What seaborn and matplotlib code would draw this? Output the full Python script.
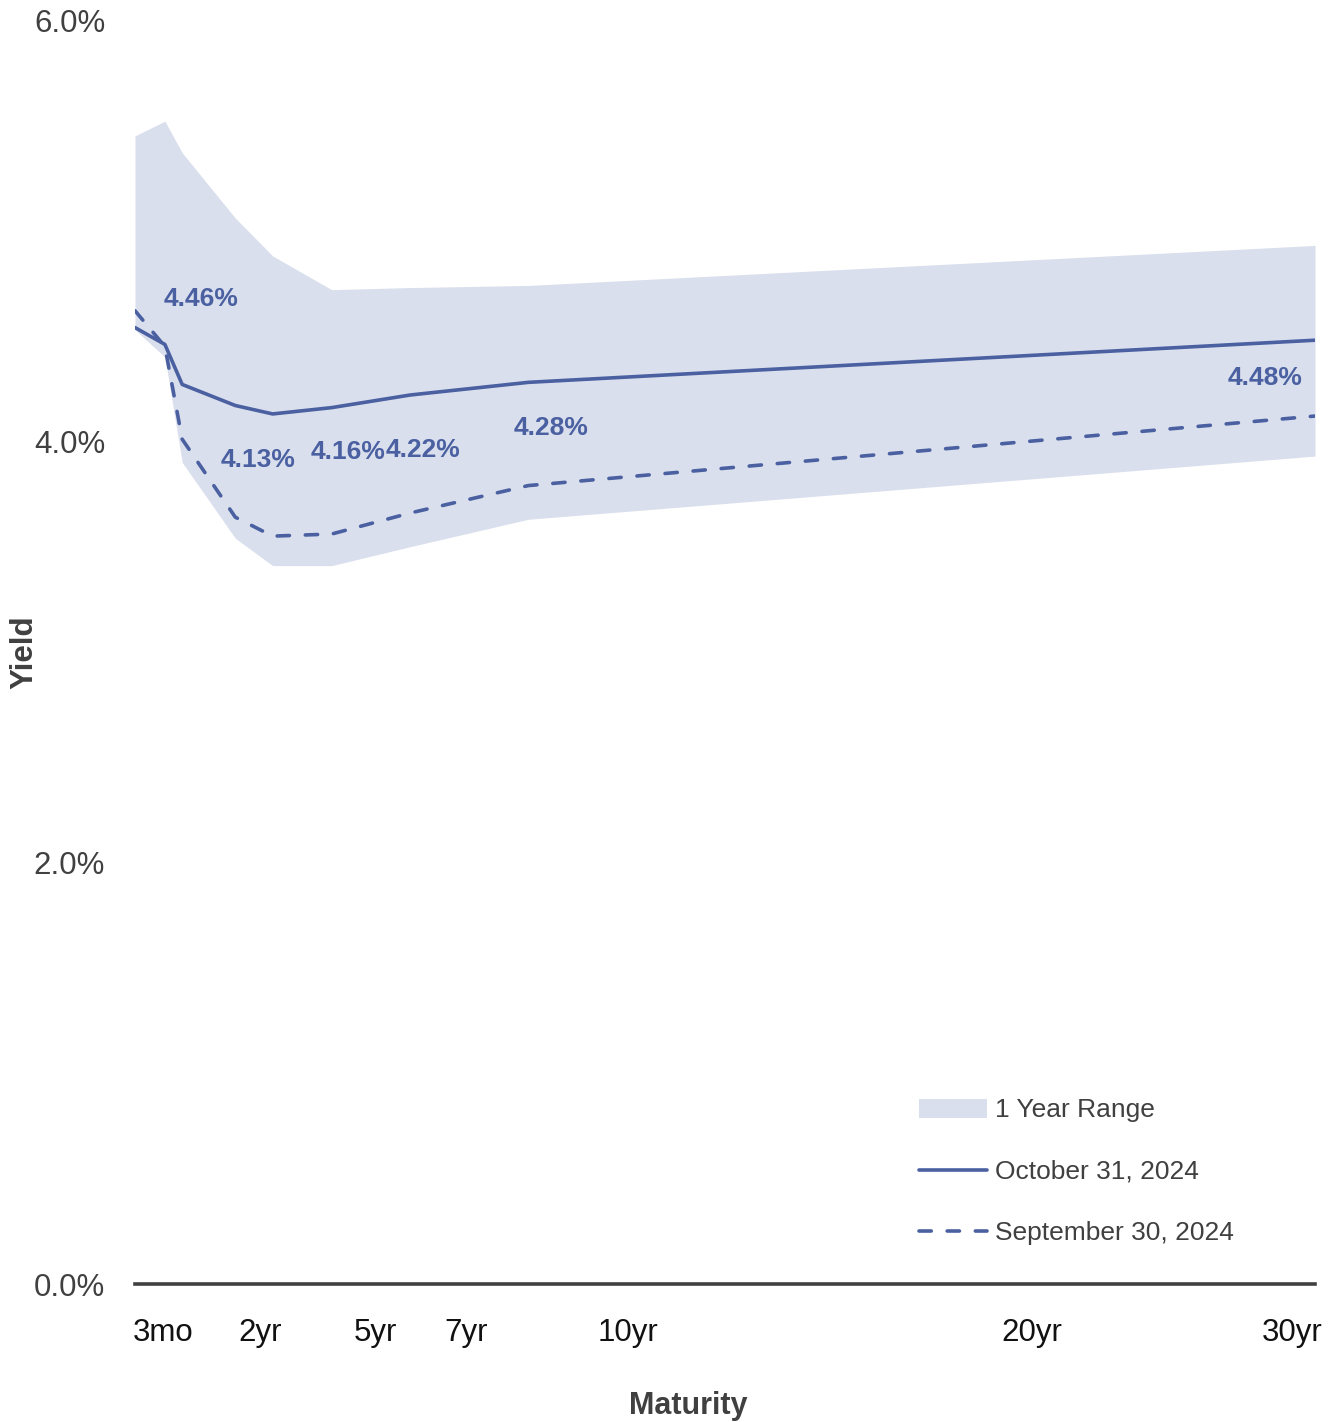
import matplotlib
matplotlib.use("Agg")
import matplotlib.pyplot as plt
import seaborn as sns

# Maturity positions on the horizontal axis (3mo ... 30yr)
maturity_x = [0.0, 0.76, 1.2, 2.55, 3.5, 5.0, 7.0, 10.0, 30.0]
oct_yield = [4.54, 4.46, 4.27, 4.17, 4.13, 4.16, 4.22, 4.28, 4.48]
sep_yield = [4.62, 4.45, 4.01, 3.64, 3.55, 3.56, 3.66, 3.79, 4.12]
range_high = [5.45, 5.52, 5.37, 5.06, 4.88, 4.72, 4.73, 4.74, 4.93]
range_low = [4.53, 4.40, 3.90, 3.54, 3.41, 3.41, 3.50, 3.63, 3.93]

# Points of the October curve that carry a value label
labeled_idx = [1, 4, 5, 6, 7, 8]

tick_pos = [0.71, 3.17, 6.1, 8.43, 12.53, 22.8, 29.42]
tick_labels = ["3mo", "2yr", "5yr", "7yr", "10yr", "20yr", "30yr"]
ytick_vals = [0, 2, 4, 6]
ytick_labels = ["0.0%", "2.0%", "4.0%", "6.0%"]

series_names = ["1 Year Range", "October 31, 2024", "September 30, 2024"]

# label offsets (points) relative to their data points
label_offsets = [(25.8, 27.6), (-10.8, -37.9), (11.7, -37.2),
                 (9.4, -44.4), (16.6, -38.2), (-36, -32.4)]

LINE = "#4A60A1"
FILL = "#DADFED"
TEXT = "#404040"

sns.set_theme(style="white")
plt.rcParams["font.family"] = ["Liberation Sans", "DejaVu Sans"]

fig = plt.figure(figsize=(13.39, 14.22), dpi=100)
ax = fig.add_axes([135 / 1339, 1 - 1284 / 1422, 1180 / 1339, 1264 / 1422])

fill = ax.fill_between(maturity_x, range_low, range_high, color=FILL,
                       linewidth=0, label=series_names[0], zorder=1)

sns.lineplot(x=maturity_x, y=oct_yield, ax=ax, color=LINE, linewidth=2.6,
             label=series_names[1], zorder=3)
sns.lineplot(x=maturity_x, y=sep_yield, ax=ax, color=LINE, linewidth=2.6,
             label=series_names[2], zorder=3)
oct_line, sep_line = ax.lines[-2], ax.lines[-1]
sep_line.set_dashes([3.4, 4.4])
sep_line.set_dash_capstyle("round")

for i, (dx, dy) in zip(labeled_idx, label_offsets):
    ax.annotate(f"{oct_yield[i]:.2f}%", (maturity_x[i], oct_yield[i]),
                xytext=(dx, dy), textcoords="offset points",
                ha="center", va="baseline", fontsize=19,
                fontweight="bold", color=LINE, zorder=4)

ax.set_xlim(0, 30)
ax.set_ylim(0, 6)
ax.set_xticks(tick_pos)
ax.set_xticklabels(tick_labels)
ax.set_yticks(ytick_vals)
ax.set_yticklabels(ytick_labels)
ax.tick_params(axis="x", length=0, pad=24.5, labelsize=22.5, labelcolor="#111111")
ax.tick_params(axis="y", length=0, pad=21.5, labelsize=22.5, labelcolor=TEXT)

for side in ["top", "right", "left"]:
    ax.spines[side].set_visible(False)
ax.spines["bottom"].set_color(TEXT)
ax.spines["bottom"].set_linewidth(2.6)
ax.grid(False)

ax.set_xlabel("Maturity", fontsize=22, fontweight="bold", color=TEXT)
ax.xaxis.set_label_coords((688.5 - 135) / 1180, (1284 - 1391) / 1264)
ax.set_ylabel("Yield", fontsize=22.5, fontweight="bold", color=TEXT)
ax.yaxis.set_label_coords((39 - 135) / 1180, 0.5)

leg = ax.legend([fill, oct_line, sep_line], series_names,
                loc="upper left", bbox_to_anchor=(919 / 1339, 1 - 1098.5 / 1422),
                bbox_transform=fig.transFigure, frameon=False, fontsize=19,
                borderpad=0, borderaxespad=0, handlelength=2.58,
                handletextpad=0.3, labelspacing=1.42)
for t in leg.get_texts():
    t.set_color(TEXT)

fig.savefig("out.png", dpi=100)
